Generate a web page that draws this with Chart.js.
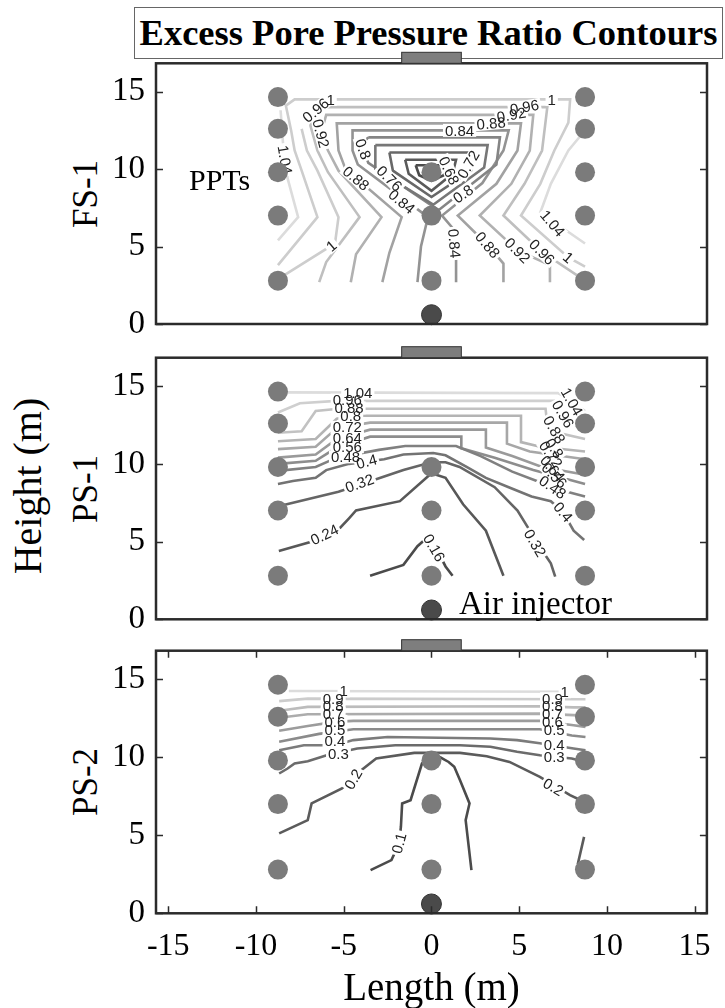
<!DOCTYPE html>
<html>
<head>
<meta charset="utf-8">
<script src="https://cdn.jsdelivr.net/npm/chart.js@4.4.1/dist/chart.umd.min.js"></script>
<style>
  body { margin:0; background:#fff; width:725px; height:1008px; position:relative; overflow:hidden;
         font-family:"Liberation Serif","Times New Roman",serif; color:#000; }
  canvas { position:absolute; left:0; z-index:2; }
  #title { position:absolute; left:134px; top:7px; width:589px; height:52px; box-sizing:border-box;
           border:1px solid #666; font-weight:bold; font-size:36.5px; line-height:50px; text-align:center;
           white-space:nowrap; z-index:1; }
  .rot { position:absolute; transform:translate(-50%,-50%) rotate(-90deg); white-space:nowrap; line-height:1; }
  .txt { position:absolute; white-space:nowrap; line-height:1; z-index:3; }
</style>
</head>
<body>
<div id="title">Excess Pore Pressure Ratio Contours</div>
<div class="rot" style="left:28px;top:486px;font-size:40px;">Height (m)</div>
<div class="rot" style="left:85px;top:194px;font-size:35px;">FS-1</div>
<div class="rot" style="left:85px;top:489px;font-size:35px;">PS-1</div>
<div class="rot" style="left:85px;top:782px;font-size:35px;">PS-2</div>
<div class="txt" style="left:189px;top:165px;font-size:30px;">PPTs</div>
<div class="txt" style="left:459px;top:587px;font-size:33px;">Air injector</div>
<div class="txt" style="left:0;width:863px;text-align:center;top:967px;font-size:39px;">Length (m)</div>

<canvas id="c1" width="725" height="370" style="top:0px"></canvas>
<canvas id="c2" width="725" height="350" style="top:310px"></canvas>
<canvas id="c3" width="725" height="408" style="top:600px"></canvas>

<script>
// axes
const xTicks = [-15, -10, -5, 0, 5, 10, 15];
const yTicks = [0, 5, 10, 15];

// sensors
const ppts = [[-8.75,14.65],[-8.75,12.6],[-8.75,9.8],[-8.75,7.0],[-8.75,2.8],
              [0,9.8],[0,7.0],[0,2.8],
              [8.75,14.65],[8.75,12.6],[8.75,9.8],[8.75,7.0],[8.75,2.8]];
const injector = [[0,0.6]];

// FS-1 contours
const fs1Levels = [0.64, 0.68, 0.72, 0.76, 0.8, 0.84, 0.88, 0.92, 0.96, 1, 1, 1.04, 1.04];
const fs1Lines = [
  [[-0.9,10.25],[0.9,10.25],[0.7,9.6],[0,9.25],[-0.7,9.6],[-0.9,10.25]],
  [[-1.5,10.6],[1.4,10.6],[1.2,9.7],[0,8.6],[-1.3,9.7],[-1.5,10.6]],
  [[-2.4,11.07],[2.4,11.07],[2.25,9.9],[0,8.2],[-2.2,9.9],[-2.4,11.07]],
  [[-3.2,11.55],[3.2,11.55],[3.0,10.1],[0.1,7.7],[-3.2,10.0],[-3.2,11.55]],
  [[-3.6,12.05],[3.9,12.05],[3.7,10.3],[0.4,7.35],[-3.6,10.4],[-4.0,11.6],[-3.6,12.05]],
  [[-0.8,2.7],[-0.6,5.0],[-0.2,6.9],[-4.2,10.3],[-4.5,11.2],[-4.5,12.5],[4.4,12.5],[4.1,11.2],[2.9,9.1],[0.6,7.0],[1.2,6.2],[1.4,4.5],[1.4,2.7]],
  [[-2.8,2.7],[-2.4,4.6],[-1.7,6.9],[-4.9,10.0],[-5.3,11.2],[-5.4,12.95],[5.1,12.95],[4.9,11.2],[3.7,9.05],[1.5,7.0],[3.2,5.1],[4.1,3.9],[4.1,2.7]],
  [[-4.6,2.7],[-4.3,4.5],[-2.85,6.9],[-5.3,9.9],[-5.9,11.2],[-6.3,12.3],[-6.0,13.5],[5.8,13.5],[5.6,11.2],[4.55,9.05],[2.75,7.0],[4.9,4.75],[6.75,3.8],[6.75,2.7]],
  [[-6.4,2.7],[-6.0,4.0],[-4.1,6.9],[-5.9,9.8],[-6.5,11.2],[-6.9,12.8],[-6.8,13.6],[-6.3,14.0],[6.6,14.0],[6.3,11.2],[5.3,9.05],[4.1,7.0],[6.3,4.65],[8.75,2.8]],
  [[-8.75,3.8],[-6.5,6.9],[-7.4,9.9],[-7.8,11.2],[-8.0,12.5],[-8.3,14.1],[-7.8,14.5],[7.9,14.5],[7.8,13.0],[7.0,11.2],[6.2,9.05],[5.1,7.0],[7.8,4.3],[8.75,3.7]],
  [[-8.75,2.9],[-5.5,5.2],[-5.3,6.9],[-6.5,9.9],[-7.1,11.2],[-7.4,12.6]],
  [[-8.6,13.8],[-8.45,11.5],[-8.2,9.4],[-7.6,6.9],[-8.75,5.4]],
  [[8.6,12.3],[7.8,11.2],[6.8,9.05],[6.2,7.2],[8.75,5.2]]
];
const fs1Labels = [
  ['1',-5.75,14.5,0], ['1',6.85,14.5,0],
  ['0.96',-6.6,13.8,-40], ['0.96',5.3,14.0,-10],
  ['0.92',-6.3,12.3,75], ['0.92',4.55,13.5,-10],
  ['0.88',3.4,12.95,-5], ['0.84',1.6,12.5,0],
  ['0.8',-3.9,11.3,70], ['1.04',-8.35,10.6,80],
  ['0.88',-4.3,9.4,40], ['0.76',-2.4,9.4,45], ['0.84',-1.7,7.9,40],
  ['0.68',1.0,9.9,65], ['0.72',2.1,10.3,-60], ['0.8',1.8,8.4,-35],
  ['0.84',1.3,5.2,85], ['0.88',3.2,5.1,50], ['0.92',4.9,4.75,45],
  ['0.96',6.3,4.65,45], ['1',7.8,4.3,40], ['1.04',6.9,6.5,50], ['1',-5.7,5.05,-40]
];

// PS-1 contours
const ps1Levels = [0.16, 0.24, 0.32, 0.4, 0.48, 0.56, 0.64, 0.72, 0.8, 0.88, 0.96, 1.04];
const ps1Lines = [
  [[-3.5,2.8],[-1.6,3.5],[-0.8,4.7],[-0.4,5.1],[0.3,4.5],[0.8,3.4],[1.2,2.8]],
  [[-8.7,4.4],[-6.8,5.0],[-5.2,5.9],[-4.7,6.5],[-4.3,7.0],[-1.8,7.6],[0,9.4],[0.8,9.1],[1.8,7.4],[3.1,5.7],[4.1,2.8]],
  [[-8.6,7.3],[-5.3,8.2],[-3.2,9.0],[-1.6,9.6],[0,10.1],[0.8,10.1],[1.6,9.8],[3.6,8.5],[4.9,7.0],[5.5,5.9],[6.2,4.6],[6.8,3.6],[7.05,2.75]],
  [[-8.75,8.7],[-7.9,8.9],[-6.6,9.1],[-6.0,9.6],[-4.7,10.0],[-2.7,10.3],[-1.6,10.6],[0.1,10.7],[0.8,10.55],[2.0,9.8],[3.1,9.1],[4.4,8.5],[5.7,7.9],[6.8,7.6],[7.5,6.9],[8.1,5.7],[8.7,5.1]],
  [[-8.75,9.55],[-6.6,9.8],[-5.4,10.4],[-3.0,10.9],[-1.5,11.15],[1.4,11.15],[2.8,10.5],[4.6,9.5],[6.0,8.9],[7.4,8.3],[8.75,7.9]],
  [[-8.75,10.0],[-6.6,10.2],[-5.4,11.05],[-3.5,11.75],[1.7,11.75],[1.7,11.0],[3.6,10.4],[5.8,9.6],[8.75,8.7]],
  [[-8.75,10.4],[-6.6,10.6],[-5.4,11.6],[-3.5,12.2],[3.1,12.2],[3.1,11.05],[4.6,10.5],[6.3,9.8],[8.75,9.3]],
  [[-8.75,10.95],[-6.6,11.1],[-5.4,12.3],[-3.5,12.65],[4.3,12.65],[4.3,11.3],[5.6,10.8],[8.75,10.3]],
  [[-8.75,11.45],[-6.6,11.6],[-5.4,12.9],[-4.5,13.1],[5.1,13.1],[5.1,11.4],[6.2,11.1],[8.75,10.8]],
  [[-8.75,12.0],[-7.4,12.1],[-6.6,13.4],[-5.3,13.55],[6.5,13.55],[6.6,12.5],[7.2,12.0],[8.75,11.6]],
  [[-8.75,13.3],[-7.5,13.9],[-5.4,14.05],[7.0,14.05],[7.5,13.4],[8.0,12.6],[8.75,12.2]],
  [[-8.75,14.6],[7.2,14.55],[7.8,14.2],[8.75,13.4]]
];
const ps1Labels = [
  ['1.04',-4.2,14.57,0], ['0.96',-4.8,14.1,0], ['0.88',-4.7,13.6,0], ['0.8',-4.6,13.1,0],
  ['0.72',-4.8,12.35,0], ['0.64',-4.8,11.65,0], ['0.56',-4.8,11.1,0], ['0.48',-4.9,10.45,0],
  ['0.4',-3.7,10.15,-15], ['0.32',-4.1,8.75,-20], ['0.24',-6.1,5.45,-25], ['0.16',0.15,4.6,60],
  ['0.32',5.9,4.9,60], ['1.04',8.0,14.0,60], ['0.96',7.5,13.2,60], ['0.88',7.0,12.2,60],
  ['0.8',7.0,11.0,55], ['0.72',6.8,10.6,55], ['0.64',6.9,9.7,50], ['0.56',7.0,9.25,45],
  ['0.48',6.9,8.5,35], ['0.4',7.5,6.9,50]
];

// PS-2 contours
const ps2Levels = [0.1, 0.2, 0.2, 0.3, 0.4, 0.5, 0.6, 0.7, 0.8, 0.9, 1];
const ps2Lines = [
  [[-3.47,2.77],[-2.28,3.41],[-1.84,4.48],[-1.74,5.55],[-1.67,7.04],[-1.19,7.25],[-0.54,9.6],[-0.1,10.1],[0.5,10.0],[0.98,9.7],[1.3,9.39],[1.63,8.53],[2.17,7.04],[1.95,5.97],[2.28,2.77]],
  [[-8.68,5.12],[-7.05,5.97],[-6.83,7.04],[-5.1,8.0],[-4.0,9.17],[-3.15,9.92],[-0.98,10.28],[1.63,10.28],[3.15,10.07],[4.45,9.7],[6.18,8.75],[7.9,7.57],[8.7,7.15]],
  [[8.7,4.9],[8.35,3.2],[8.7,2.9]],
  [[-8.68,8.96],[-8.2,9.28],[-7.8,9.6],[-7.05,9.75],[-5.97,10.13],[-4.23,10.56],[-2.06,10.77],[1.63,10.77],[3.36,10.67],[4.88,10.35],[6.18,10.13],[8.0,9.92],[8.78,9.7]],
  [[-8.68,10.45],[-7.27,10.77],[-5.5,10.77],[-4.45,11.1],[-2.5,11.3],[3.36,11.2],[4.88,11.1],[6.18,10.9],[8.1,10.56],[8.78,10.45]],
  [[-8.68,11.0],[-6.4,11.5],[-4.45,11.8],[6.18,11.8],[8.0,11.4],[8.78,11.3]],
  [[-8.68,11.7],[-7.05,12.0],[-5.5,12.27],[-4.45,12.33],[6.18,12.33],[8.1,12.05],[8.78,11.95]],
  [[-8.57,12.55],[-7.05,12.76],[6.18,12.8],[8.1,12.7],[8.78,12.65]],
  [[-8.57,13.0],[-7.05,13.23],[6.18,13.27],[8.1,13.2],[8.78,13.2]],
  [[-8.68,13.6],[-7.05,13.76],[8.78,13.72]],
  [[-8.13,14.25],[7.9,14.2]]
];
const ps2Labels = [
  ['1',-5.0,14.25,0], ['0.9',-5.6,13.76,0], ['0.8',-5.6,13.27,0], ['0.7',-5.6,12.8,0],
  ['0.6',-5.5,12.3,0], ['0.5',-5.5,11.75,0], ['0.4',-5.5,11.05,0], ['0.3',-5.3,10.25,0],
  ['1',7.6,14.2,0], ['0.9',6.9,13.75,0], ['0.8',6.9,13.27,0], ['0.7',6.9,12.8,0],
  ['0.6',6.9,12.3,0], ['0.5',7.0,11.75,0], ['0.4',7.0,10.8,0], ['0.3',7.0,10.05,0],
  ['0.2',-4.45,8.6,-60], ['0.2',6.95,8.1,30], ['0.1',-1.85,4.5,-75]
];

const serif = '"Liberation Serif","Times New Roman",serif';

function contourSets(levels, lines) {
  const lo = Math.min(...levels), hi = Math.max(...levels);
  return lines.map((pts, i) => {
    const g = Math.round(75 + 145 * (levels[i] - lo) / (hi - lo));
    return {
      data: pts.map(p => ({ x: p[0], y: p[1] })),
      showLine: true, pointRadius: 0, borderWidth: 2.6,
      borderColor: `rgb(${g},${g},${g})`, order: 1, clip: false
    };
  });
}

function markerSets() {
  return [
    { data: ppts.map(p => ({ x: p[0], y: p[1] })), pointRadius: 10, backgroundColor: '#7b7b7b',
      borderWidth: 0, order: 0, isMarker: true, clip: false },
    { data: injector.map(p => ({ x: p[0], y: p[1] })), pointRadius: 10, backgroundColor: '#4a4a4a',
      borderColor: '#333', borderWidth: 1, order: 0, isMarker: true, clip: false }
  ];
}

function drawLabels(chart, labels) {
  const ctx = chart.ctx, xs = chart.scales.x, ys = chart.scales.y;
  ctx.save();
  ctx.font = '15px "Liberation Sans", Arial, sans-serif';
  ctx.textAlign = 'center';
  ctx.textBaseline = 'middle';
  // white gaps first, then all texts, so crowded labels overlap like in the figure
  for (const pass of [0, 1]) {
    labels.forEach(l => {
      const w = ctx.measureText(l[0]).width;
      ctx.save();
      ctx.translate(xs.getPixelForValue(l[1]), ys.getPixelForValue(l[2]));
      ctx.rotate(l[3] * Math.PI / 180);
      if (pass === 0) { ctx.fillStyle = '#fff'; ctx.fillRect(-w / 2 - 2, -6.5, w + 4, 13); }
      else { ctx.fillStyle = '#222'; ctx.fillText(l[0], 0, 1); }
      ctx.restore();
    });
  }
  ctx.restore();
}

const decor = {
  id: 'decor',
  beforeDraw(chart) { chart.$labelsDone = false; },
  beforeDatasetDraw(chart, args, opts) {
    if (!chart.$labelsDone && chart.data.datasets[args.index].isMarker) {
      drawLabels(chart, opts.labels);
      chart.$labelsDone = true;
    }
  },
  afterDraw(chart, args, opts) {
    const ctx = chart.ctx, a = chart.chartArea, xs = chart.scales.x, ys = chart.scales.y;
    ctx.save();
    ctx.strokeStyle = '#2b2b2b';
    ctx.lineWidth = 1.5;
    ctx.beginPath();
    yTicks.forEach(v => {
      const py = Math.round(ys.getPixelForValue(v)) + 0.5;
      ctx.moveTo(a.left, py); ctx.lineTo(a.left + 7, py);
      ctx.moveTo(a.right - 7, py); ctx.lineTo(a.right, py);
    });
    if (opts.xTicks) {
      xTicks.forEach(v => {
        const px = Math.round(xs.getPixelForValue(v)) + 0.5;
        ctx.moveTo(px, a.bottom); ctx.lineTo(px, a.bottom - 7);
        ctx.moveTo(px, a.top); ctx.lineTo(px, a.top + 7);
      });
    }
    ctx.stroke();
    ctx.lineWidth = 2.5;
    ctx.strokeRect(a.left, a.top, a.right - a.left, a.bottom - a.top);
    // plate on top of the model
    const x1 = xs.getPixelForValue(-1.7), x2 = xs.getPixelForValue(1.7);
    ctx.fillStyle = '#7e7e7e';
    ctx.fillRect(x1, a.top - 11, x2 - x1, 11);
    ctx.lineWidth = 1;
    ctx.strokeStyle = '#333';
    ctx.strokeRect(x1, a.top - 11, x2 - x1, 11);
    ctx.restore();
  }
};

function makePanel(id, levels, lines, labels, pad, showX) {
  new Chart(document.getElementById(id), {
    type: 'scatter',
    data: { datasets: contourSets(levels, lines).concat(markerSets()) },
    options: {
      responsive: false, animation: false, devicePixelRatio: 1,
      layout: { padding: { left: 0, right: 18, top: pad.top, bottom: pad.bottom } },
      plugins: { legend: { display: false }, tooltip: { enabled: false },
                 decor: { labels: labels, xTicks: showX } },
      scales: {
        x: {
          type: 'linear', min: -15.7, max: 15.7, display: showX,
          grid: { display: false, drawTicks: false }, border: { display: false },
          ticks: { color: '#000', padding: 14, font: { family: serif, size: 32 } },
          afterBuildTicks: s => { s.ticks = xTicks.map(v => ({ value: v })); },
          afterFit: s => { s.height = showX ? 94.7 : 0; }
        },
        y: {
          type: 'linear', min: 0, max: 16.83,
          grid: { display: false, drawTicks: false }, border: { display: false },
          ticks: { color: '#000', padding: 11, font: { family: serif, size: 33 } },
          afterBuildTicks: s => { s.ticks = yTicks.map(v => ({ value: v })); },
          afterFit: s => { s.width = 156; }
        }
      }
    },
    plugins: [decor]
  });
}

makePanel('c1', fs1Levels, fs1Lines, fs1Labels, { top: 63.3, bottom: 46 }, false);
makePanel('c2', ps1Levels, ps1Lines, ps1Labels, { top: 47.7, bottom: 40.7 }, false);
makePanel('c3', ps2Levels, ps2Lines, ps2Labels, { top: 50.7, bottom: 0 }, true);
</script>
</body>
</html>
